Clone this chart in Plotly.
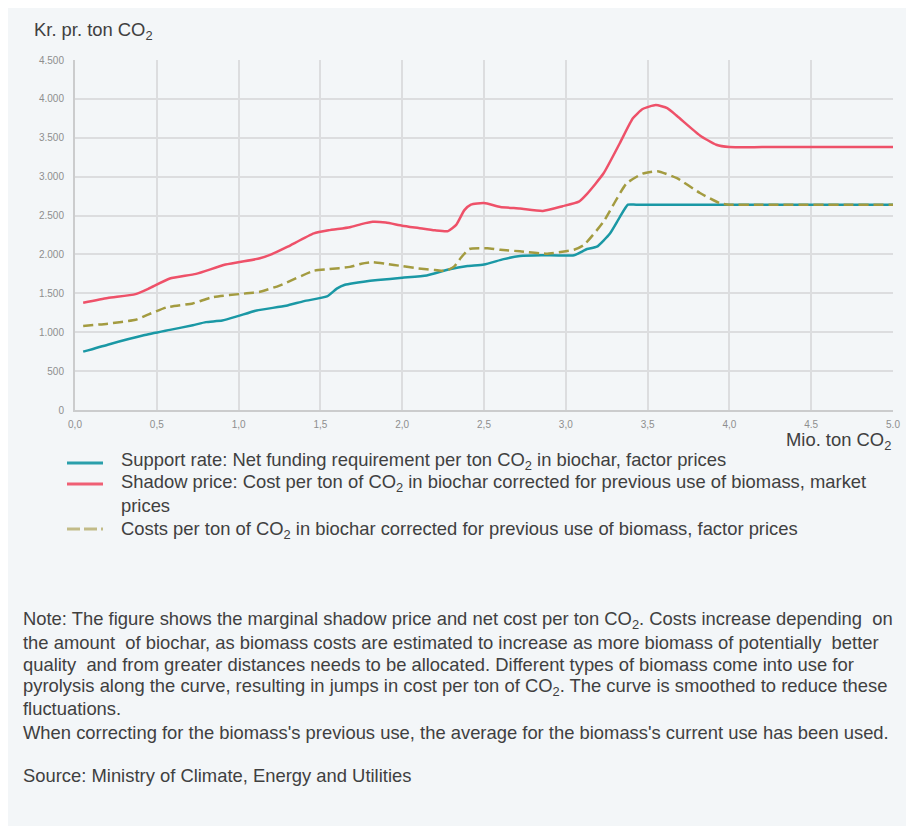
import plotly.graph_objects as go

# ---------------- data ----------------
x_ticks = [0, 0.5, 1.0, 1.5, 2.0, 2.5, 3.0, 3.5, 4.0, 4.5, 5.0]
x_tick_labels = ["0,0", "0,5", "1,0", "1,5", "2,0", "2,5", "3,0", "3,5", "4,0", "4.5", "5.0"]
y_ticks = [0, 500, 1000, 1500, 2000, 2500, 3000, 3500, 4000, 4500]
y_tick_labels = ["0", "500", "1.000", "1.500", "2.000", "2.500", "3.000", "3.500", "4.000", "4.500"]

support_x = [0.05, 0.2, 0.42, 0.58, 0.72, 0.8, 0.9, 1.0, 1.11, 1.29, 1.4, 1.54, 1.6, 1.65, 1.7,
             1.85, 2.0, 2.15, 2.29, 2.4, 2.5, 2.62, 2.72, 2.85, 3.05, 3.13, 3.19, 3.27, 3.33,
             3.38, 3.43, 4.0, 5.0]
support_y = [750, 840, 960, 1030, 1090, 1130, 1150, 1210, 1280, 1340, 1400, 1460, 1560, 1610, 1630,
             1670, 1700, 1730, 1810, 1850, 1870, 1940, 1980, 1990, 1990, 2070, 2100, 2270, 2480,
             2640, 2640, 2640, 2640]

shadow_x = [0.05, 0.2, 0.37, 0.45, 0.58, 0.74, 0.92, 1.13, 1.2, 1.3, 1.46, 1.55, 1.68, 1.75, 1.82,
            1.9, 2.0, 2.1, 2.2, 2.28, 2.33, 2.38, 2.42, 2.5, 2.6, 2.72, 2.86, 2.98, 3.08, 3.13,
            3.23, 3.33, 3.41, 3.47, 3.55, 3.62, 3.68, 3.82, 3.92, 4.0, 4.2, 4.5, 5.0]
shadow_y = [1380, 1440, 1490, 1560, 1690, 1750, 1870, 1950, 2000, 2100, 2270, 2310, 2350, 2390, 2420,
            2410, 2370, 2340, 2310, 2300, 2380, 2570, 2640, 2660, 2610, 2590, 2560, 2620, 2680, 2780,
            3040, 3430, 3750, 3870, 3920, 3880, 3780, 3530, 3410, 3380, 3380, 3380, 3380]

cost_x = [0.05, 0.2, 0.37, 0.45, 0.56, 0.72, 0.84, 1.05, 1.13, 1.25, 1.46, 1.55, 1.68, 1.75, 1.82,
          1.9, 2.0, 2.1, 2.2, 2.27, 2.32, 2.36, 2.41, 2.52, 2.6, 2.72, 2.88, 3.05, 3.11, 3.23,
          3.37, 3.47, 3.56, 3.68, 3.82, 3.94, 4.0, 4.2, 5.0]
cost_y = [1080, 1110, 1160, 1230, 1320, 1370, 1450, 1500, 1520, 1600, 1790, 1810, 1840, 1880, 1900,
          1880, 1850, 1820, 1800, 1790, 1850, 1960, 2070, 2080, 2060, 2040, 2010, 2060, 2120, 2420,
          2910, 3040, 3070, 2980, 2790, 2660, 2640, 2640, 2640]

series_names = [
    "Support rate: Net funding requirement per ton CO<sub>2</sub> in biochar, factor prices",
    "Shadow price: Cost per ton of CO<sub>2</sub> in biochar corrected for previous use of biomass, market",
    "Costs per ton of CO<sub>2</sub> in biochar corrected for previous use of biomass, factor prices",
]
series_name_wrap = "prices"

y_axis_title = "Kr. pr. ton CO<sub>2</sub>"
x_axis_title = "Mio. ton CO<sub>2</sub>"

note_lines = [
    "Note: The figure shows the marginal shadow price and net cost per ton CO<sub>2</sub>. Costs increase depending  on",
    "the amount  of biochar, as biomass costs are estimated to increase as more biomass of potentially  better",
    "quality  and from greater distances needs to be allocated. Different types of biomass come into use for",
    "pyrolysis along the curve, resulting in jumps in cost per ton of CO<sub>2</sub>. The curve is smoothed to reduce these",
    "fluctuations.",
    "When correcting for the biomass's previous use, the average for the biomass's current use has been used.",
]
source_line = "Source: Ministry of Climate, Energy and Utilities"

# ---------------- layout helpers (screen px -> paper coords) ----------------
OFF = 8  # page body margin
W, H = 906, 818
ML, MR, MT, MB = 67, 21, 52, 416
PW = W - ML - MR
PH = H - MT - MB


def px_x(px):
    return (px - OFF - ML) / PW


def px_y(py):
    return (H - MB - (py - OFF)) / PH


FONT = "Liberation Sans, Arial, sans-serif"
PANEL = "#f3f6f8"
TEXT = "#404040"
COL_SUPPORT = "#1a98a5"
COL_SHADOW = "#ee5169"
COL_COST = "#a39b40"
TXT_SIZE = 18.4

fig = go.Figure()
fig.add_trace(go.Scatter(x=support_x, y=support_y, name=series_names[0], mode="lines",
                         line=dict(color=COL_SUPPORT, width=2.5, shape="spline", smoothing=0.5)))
fig.add_trace(go.Scatter(x=shadow_x, y=shadow_y, name=series_names[1], mode="lines",
                         line=dict(color=COL_SHADOW, width=2.5, shape="spline", smoothing=0.5)))
fig.add_trace(go.Scatter(x=cost_x, y=cost_y, name=series_names[2], mode="lines",
                         line=dict(color=COL_COST, width=2.5, shape="spline", smoothing=0.5,
                                   dash="10px,5px")))

annotations = [
    dict(text=y_axis_title, x=px_x(32), y=px_y(31), xanchor="left", yanchor="middle"),
    dict(text=x_axis_title, x=px_x(893), y=px_y(441), xanchor="right", yanchor="middle"),
]

# manual legend (text + symbol lines)
legend_text_y = [461, 483, 530]
legend_line_y = [463, 484, 529]
for name, yy in zip(series_names, legend_text_y):
    annotations.append(dict(text=name, x=px_x(119), y=px_y(yy), xanchor="left", yanchor="middle"))
annotations.append(dict(text=series_name_wrap, x=px_x(119), y=px_y(505), xanchor="left", yanchor="middle"))

note_y = [620, 642, 664, 687, 708, 732]
for line, yy in zip(note_lines, note_y):
    annotations.append(dict(text=line, x=px_x(21), y=px_y(yy), xanchor="left", yanchor="middle"))
annotations.append(dict(text=source_line, x=px_x(21), y=px_y(775), xanchor="left", yanchor="middle"))
for a in annotations:
    a.update(xref="paper", yref="paper", showarrow=False, align="left",
             font=dict(size=TXT_SIZE, color=TEXT, family=FONT))

legend_styles = [
    dict(color="#2a9fab", width=3, dash="solid"),
    dict(color="#ef5f74", width=3, dash="solid"),
    dict(color="#c2bb88", width=3, dash="13px,4px"),
]
shapes = [
    dict(type="rect", xref="paper", yref="paper", x0=px_x(OFF), x1=px_x(914 + 2),
         y0=px_y(826), y1=px_y(OFF), fillcolor=PANEL, line=dict(width=0), layer="below")
]
for st, yy in zip(legend_styles, legend_line_y):
    shapes.append(dict(type="line", xref="paper", yref="paper", x0=px_x(67), x1=px_x(103),
                       y0=px_y(yy), y1=px_y(yy), line=st))

axis_common = dict(showgrid=True, gridcolor="#dcdddf", gridwidth=1.6, showline=True,
                   linecolor="#cbcccd", linewidth=2, zeroline=False, ticks="",
                   tickfont=dict(size=10, color="#8e8e8e", family=FONT), fixedrange=True)

fig.update_layout(
    width=W, height=H,
    margin=dict(l=ML, r=MR, t=MT, b=MB, pad=0),
    paper_bgcolor="white",
    plot_bgcolor="rgba(0,0,0,0)",
    font=dict(family=FONT, color=TEXT),
    shapes=shapes,
    annotations=annotations,
    showlegend=False,
    xaxis=dict(range=[0, 5], tickvals=x_ticks, ticktext=x_tick_labels, ticklabelstandoff=4,
               **axis_common),
    yaxis=dict(range=[0, 4500], tickvals=y_ticks, ticktext=y_tick_labels, ticklabelstandoff=7,
               **axis_common),
)

fig.write_html("out.html")
